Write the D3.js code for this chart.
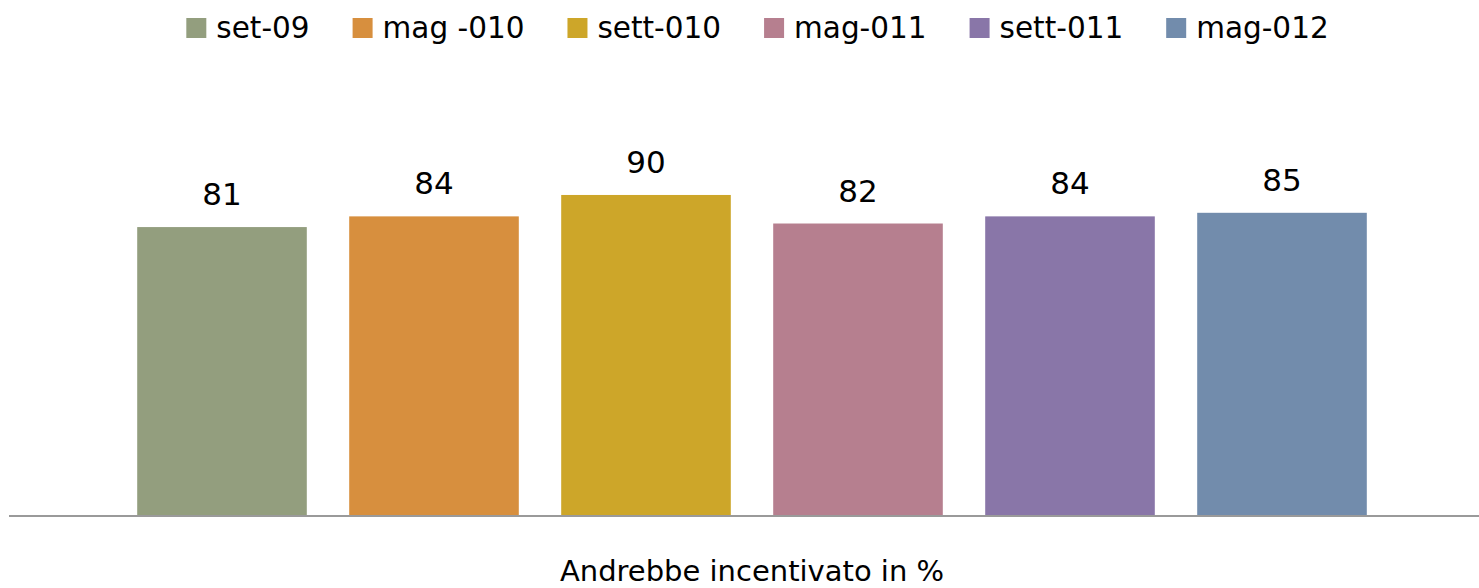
<!DOCTYPE html>
<html>
<head>
<meta charset="utf-8">
<script src="https://cdn.jsdelivr.net/npm/d3@7"></script>
<style>
  body { margin: 0; background: #fff; }
  svg text { font-family: "DejaVu Sans", sans-serif; fill: #000; }
</style>
</head>
<body>
<svg id="chart" width="1479" height="588"></svg>
<script>
// data
var periods = ["set-09", "mag -010", "sett-010", "mag-011", "sett-011", "mag-012"];
var values  = [81, 84, 90, 82, 84, 85];
var colors  = ["#939E7E", "#D78F3E", "#CDA629", "#B67F8F", "#8976A8", "#728CAC"];
var axisTitle = "Andrebbe incentivato in %";

var chart = d3.select("#chart");
var data = periods.map(function (p, i) { return {period: p, value: values[i], color: colors[i]}; });

// x position scale
var x = d3.scaleBand()
    .domain(periods)
    .range([116, 1388])
    .paddingInner(0.2)
    .paddingOuter(0.1);

// y position scale
var y = d3.scaleLinear()
    .domain([0, 100])
    .range([516, 159.3]);

// bars
chart.selectAll("rect.bar")
    .data(data)
    .enter()
    .append("rect")
    .attr("class", "bar")
    .attr("x", function (d) { return x(d.period); })
    .attr("y", function (d) { return y(d.value); })
    .attr("width", x.bandwidth())
    .attr("height", function (d) { return y(0) - y(d.value); })
    .attr("fill", function (d) { return d.color; });

// value labels
chart.selectAll("text.val")
    .data(data)
    .enter()
    .append("text")
    .attr("class", "val")
    .attr("x", function (d) { return x(d.period) + x.bandwidth() / 2; })
    .attr("y", function (d) { return y(d.value) - 22; })
    .attr("text-anchor", "middle")
    .style("font-size", "31px")
    .text(function (d) { return d.value; });

// baseline
chart.append("line")
    .attr("x1", 9)
    .attr("x2", 1479)
    .attr("y1", y(0))
    .attr("y2", y(0))
    .attr("stroke", "#9a9a9a")
    .attr("stroke-width", 2);

// axis title
chart.append("text")
    .attr("x", 752)
    .attr("y", 581)
    .attr("text-anchor", "middle")
    .style("font-size", "29px")
    .text(axisTitle);

// legend
var legend = chart.append("g");
var lx = 0;
data.forEach(function (d) {
  var item = legend.append("g").attr("transform", "translate(" + lx + ",0)");
  item.append("rect")
      .attr("x", 0)
      .attr("y", 18)
      .attr("width", 20)
      .attr("height", 20)
      .attr("fill", d.color);
  var t = item.append("text")
      .attr("x", 30)
      .attr("y", 38)
      .style("font-size", "29.5px")
      .text(d.period);
  lx += 30 + t.node().getComputedTextLength() + 43;
});
var legendWidth = lx - 43;
legend.attr("transform", "translate(" + (757.5 - legendWidth / 2) + ",0)");
</script>
</body>
</html>
